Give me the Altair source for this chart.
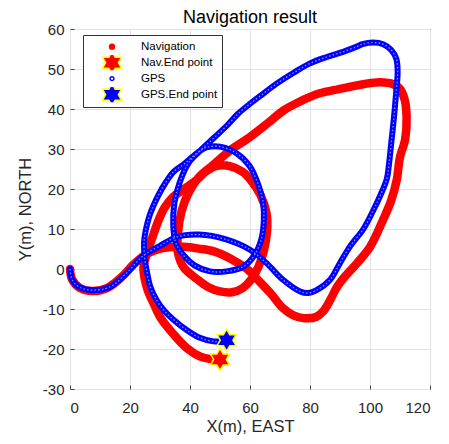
import altair as alt
import pandas as pd

# ---- data ----
nav_x = [0, 0.7, 3.2, 7.5, 12.5, 17.5, 21, 25.7, 31, 36.7, 43, 48, 54, 59, 63, 67, 71, 74.5, 78,
         82, 84.5, 86.7, 89, 91.5, 95.6, 100, 104.3, 107, 108.9, 110, 111.7, 112.2, 111.5, 110,
         107.8, 103.3, 97.8, 93, 87.8, 82.2, 77, 71.1, 66, 60, 53.3, 47.7,
         43, 39.5, 37.2, 36, 36, 38, 42.3, 46, 50, 54, 57.5, 60.5, 62.8, 64.6, 65.7, 65.5, 63.5,
         60.5, 57.5, 53, 49, 45.5, 42.3,
         38, 34.3, 31.5, 29.7, 27.5, 25.5, 24.5, 24.9, 26, 27.8, 30.3, 34.4, 39, 43.5, 47.8, 50]
nav_y = [0, -2.6, -4.7, -5.5, -4.7, -1.8, 1.0, 3.8, 5.2, 5.6, 5.1, 4.4, 2.4, 0, -3, -6.2, -9.8, -11.6, -12.3,
         -12, -10.5, -7.8, -4.5, -2, 1.4, 5.5, 12.2, 17, 22.2, 28, 32.3, 38, 42.5, 45,
         46.2, 46.7, 46.2, 45.5, 44.7, 43.7, 42, 39.6, 36.5, 33, 29.6, 26,
         23, 19, 14.5, 9, 4, 0.3, -2.5, -4.5, -5.6, -5.8, -4.8, -2.5, 0.5, 4.5, 9.5, 14, 18.5,
         22, 24.3, 25.8, 25.8, 24.5, 22.3,
         20, 18, 15.3, 12.5, 8, 3.5, 0.5, -2.5, -5.5, -8.5, -12.3, -16.2, -19.8, -21.9, -22.6, -22.6]

gps_x = [0, 0.8, 3.3, 7.8, 13.3, 18.9, 24.4, 30, 35.6, 43, 52, 60, 65.6, 71, 76.7, 79.5, 82.2,
         86.7, 90, 93.3, 97.8, 101, 103.5, 105.6, 106.3, 107.2, 108, 108.7, 109.2, 108.8, 107,
         104.4, 101, 97.5, 95.6, 91, 85.6, 80, 74.4, 69, 63.3, 59.5, 56, 52.5, 48, 44,
         39.5, 36.5, 34.8, 34.4, 35.3, 38, 41.5, 46.7, 52.2, 57.8, 61.5, 63.8, 64.6, 64.4, 62.8,
         59.8, 55.6, 50, 45.5, 42.2,
         38, 34.5, 31.8, 29.5, 27.8, 26.4, 25.2, 24.7, 25, 25.6, 26.8, 28.9, 31.5, 34.4, 39, 43.3,
         47.8, 50.5]
gps_y = [0, -2.8, -4.6, -5.3, -4.5, -1, 3.3, 5.8, 8, 8.6, 7.4, 4.8, 1.4, -2.7, -5.6, -6, -5.3,
         -2.7, 1.5, 5.6, 10, 14.5, 18.5, 22.5, 26, 32.3, 38, 44, 49, 52.5, 54.8,
         56.2, 56.6, 56.2, 55.6, 54.3, 53, 51.4, 49, 46.4, 43.2, 41, 38.8, 36, 32.8, 30,
         26.5, 21.5, 16.5, 11, 6.5, 3.3, 0.9, -0.6, -0.6, 0.6, 3.5, 7.5, 12, 16.5, 21,
         25.8, 28.9, 30.6, 30.4, 28.9,
         26.2, 24.3, 21.5, 18.5, 15.8, 13.1, 9.5, 6.8, 2, -0.5, -4.5, -7.8, -10.5, -12.6, -15.3, -17.2,
         -18.1, -18.1]

legend_labels = ["Navigation", "Nav.End point", "GPS", "GPS.End point"]
end_series = ["Nav.End point", "GPS.End point"]
end_x = [50.0, 52.2]
end_y = [-22.6, -17.8]

x_ticks = [0, 20, 40, 60, 80, 100, 120]
y_ticks = [-30, -20, -10, 0, 10, 20, 30, 40, 50, 60]

# ---- tables ----
nav = pd.DataFrame({"x": nav_x, "y": nav_y, "i": list(range(len(nav_x)))})
gps = pd.DataFrame({"x": gps_x, "y": gps_y, "i": list(range(len(gps_x)))})
ends = pd.DataFrame({"x": end_x, "y": end_y, "series": end_series})

FONT = "Liberation Sans"
STAR = ("M0,-1L0.2887,-0.5L0.866,-0.5L0.5774,0L0.866,0.5L0.2887,0.5L0,1L-0.2887,0.5"
        "L-0.866,0.5L-0.5774,0L-0.866,-0.5L-0.2887,-0.5Z")
DOT = "M0,-0.22A0.22,0.22 0 1,1 0,0.22A0.22,0.22 0 1,1 0,-0.22Z"
RING = "M0,-0.17A0.17,0.17 0 1,1 0,0.17A0.17,0.17 0 1,1 0,-0.17Z"

xs = alt.Scale(domain=[0, 120], nice=False, zero=False)
ys = alt.Scale(domain=[-30, 60], nice=False, zero=False)

X = alt.X("x:Q", scale=xs,
          axis=alt.Axis(values=x_ticks, title="X(m), EAST", labelExpr="datum.value",
                        ticks=True, tickSize=4, offset=-4))
Y = alt.Y("y:Q", scale=ys,
          axis=alt.Axis(values=y_ticks, title="Y(m), NORTH", labelExpr="datum.value",
                        ticks=True, tickSize=4, offset=-4))

red_line = alt.Chart(nav).mark_line(
    color="#ff0000", strokeWidth=8.5, strokeCap="round", strokeJoin="round",
    interpolate="catmull-rom"
).encode(x=X, y=Y, order="i:Q")

blue_line = alt.Chart(gps).mark_line(
    color="#0000ff", strokeWidth=6, strokeCap="round", strokeJoin="round",
    interpolate="catmull-rom"
).encode(x=X, y=Y, order="i:Q")

blue_inner = alt.Chart(gps).mark_line(
    color="#8c8cff", strokeWidth=1.3, strokeDash=[1.5, 2.2],
    interpolate="catmull-rom"
).encode(x=X, y=Y, order="i:Q")

leg = alt.Legend(title=None, orient="none", legendX=13, legendY=6,
                 padding=4, strokeColor="#333333", fillColor="white",
                 labelFont=FONT, labelFontSize=11.5, labelColor="black",
                 symbolSize=484, symbolStrokeWidth=1.5, symbolOffset=13,
                 labelOffset=17, rowPadding=0, clipHeight=15.3, symbolType="circle")

star_layer = alt.Chart(ends).mark_point(
    size=484, filled=True, strokeWidth=1.5, opacity=1, fillOpacity=1
).encode(
    x=X, y=Y,
    shape=alt.Shape("series:N", scale=alt.Scale(domain=legend_labels,
                                                range=[DOT, STAR, RING, STAR]), legend=leg),
    fill=alt.Fill("series:N", scale=alt.Scale(domain=legend_labels,
                                              range=["#ff0000", "#ff0000", "#ffffff", "#0000ff"]), legend=leg),
    stroke=alt.Stroke("series:N", scale=alt.Scale(domain=legend_labels,
                                                  range=["#ff0000", "#ffff00", "#0000ff", "#ffff00"]), legend=leg),
)

chart = alt.layer(red_line, blue_line, blue_inner, star_layer).properties(
    width=360, height=360,
    title=alt.TitleParams("Navigation result", font=FONT, fontSize=18,
                          fontWeight="normal", color="black", offset=6, dy=11),
    autosize=alt.AutoSizeParams(type="none"),
    padding={"left": 62, "top": 21, "right": 11, "bottom": 47},
).configure_view(
    stroke="#444444", strokeWidth=1
).configure_axis(
    grid=True, gridColor="#e3e3e3", gridWidth=1, domain=False,
    tickColor="#444444", tickWidth=1,
    labelFont=FONT, labelFontSize=15, labelColor="#262626",
    titleFont=FONT, titleFontSize=16.5, titleFontWeight="normal", titleColor="#262626"
).configure_axisX(
    labelPadding=11, titlePadding=3
).configure_axisY(
    labelPadding=6, titlePadding=9
)

chart.save("out.html", embed_options={"renderer": "svg", "actions": False})
